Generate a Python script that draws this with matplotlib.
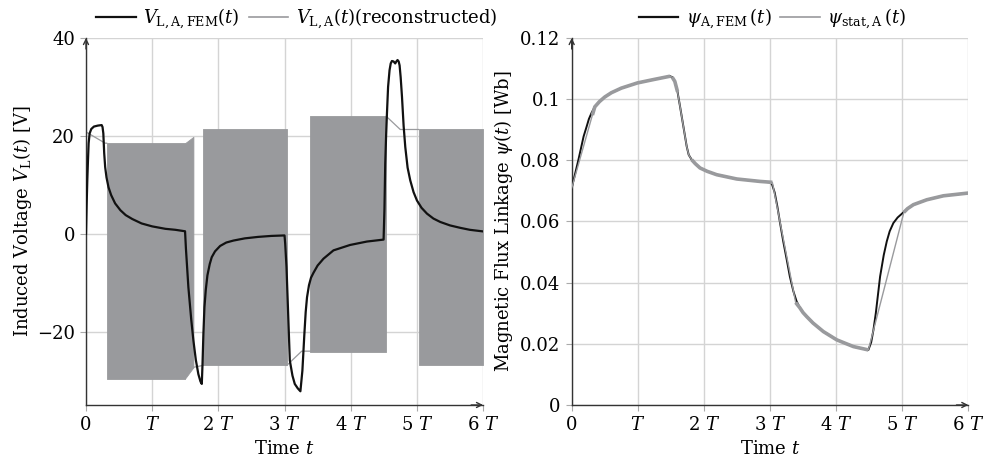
import numpy as np
import matplotlib.pyplot as plt
from matplotlib.lines import Line2D

plt.rcParams['font.family'] = ['DejaVu Serif']
plt.rcParams['mathtext.fontset'] = 'dejavuserif'

# ---------------- Left: induced voltage ----------------
# FEM voltage (t in units of T, value in V)
v_fem_t = [0, 0.01, 0.02, 0.03, 0.04, 0.055, 0.08, 0.12, 0.18, 0.237, 0.25, 0.262, 0.275,
           0.29, 0.31, 0.34, 0.38, 0.44, 0.52, 0.6, 0.7, 0.84, 1.0, 1.2, 1.35, 1.497,
           1.51, 1.547, 1.59, 1.623, 1.66, 1.698, 1.73, 1.75, 1.76, 1.774, 1.79, 1.81,
           1.835, 1.87, 1.90, 1.95, 2.027, 2.12, 2.228, 2.4, 2.6, 2.8, 3.0,
           3.01, 3.03, 3.08, 3.12, 3.155, 3.2, 3.24, 3.27, 3.30, 3.32, 3.34, 3.37, 3.40,
           3.437, 3.5, 3.589, 3.74, 3.99, 4.245, 4.497,
           4.51, 4.522, 4.535, 4.548, 4.565, 4.587, 4.605, 4.623, 4.648, 4.673, 4.69,
           4.708, 4.725, 4.739, 4.755, 4.775, 4.80, 4.825, 4.86, 4.90, 4.95, 5.001,
           5.07, 5.153, 5.25, 5.354, 5.5, 5.656, 5.8, 6.0]
v_fem_v = [0, 6.0, 11.0, 15.0, 18.5, 20.5, 21.4, 21.9, 22.1, 22.2, 21.8, 20.5, 16.5,
           13.6, 11.5, 9.5, 7.9, 6.2, 4.8, 3.8, 3.0, 2.1, 1.5, 1.0, 0.8, 0.5,
           -3.0, -10.9, -17.5, -21.8, -25.8, -28.7, -30.2, -30.7, -27.0, -20.5, -15.0, -11.5,
           -8.5, -6.2, -4.8, -3.6, -2.5, -1.8, -1.4, -0.95, -0.65, -0.45, -0.35,
           -2.0, -6.8, -25.9, -29.0, -30.7, -31.6, -32.2, -28.0, -20.5, -16.0, -13.0, -10.5, -9.0,
           -8.0, -6.5, -5.1, -3.4, -2.3, -1.6, -1.2,
           5.0, 14.3, 20.0, 24.6, 30.0, 33.4, 34.8, 35.3, 35.2, 34.8, 35.2,
           35.5, 35.2, 34.4, 32.0, 28.0, 22.0, 17.7, 13.5, 10.9, 8.5, 6.8,
           5.3, 4.1, 3.1, 2.4, 1.7, 1.2, 0.8, 0.47]

# Reconstructed (switching) voltage: switching bands (envelopes)
band_t0 = [0.313, 1.497, 1.774, 3.388, 5.025]
band_t1 = [1.497, 1.623, 3.035, 4.537, 6.0]
band_top0 = [18.5, 18.5, 21.3, 24.0, 21.3]
band_top1 = [18.5, 19.8, 21.3, 24.0, 21.3]
band_bot0 = [-29.6, -29.6, -26.9, -24.1, -26.8]
band_bot1 = [-29.6, -27.3, -26.9, -24.1, -26.8]
# Reconstructed voltage between the bands
gap_a_t = [0, 0, 0.29, 0.313]
gap_a_v = [-27.0, 20.8, 18.5, 18.5]
gap_b_t = [1.623, 1.774]
gap_b_v = [-27.3, -26.9]
gap_c_t = [3.035, 3.26, 3.388]
gap_c_v = [-26.9, -24.0, -24.0]
gap_d_t = [4.537, 4.749, 5.025]
gap_d_v = [24.0, 21.3, 21.3]

# ---------------- Right: flux linkage ----------------
psi_fem_t = [0, 0.1, 0.18, 0.227, 0.26, 0.30, 0.35, 0.42, 0.5, 0.6, 0.75, 0.993, 1.236,
             1.488, 1.52, 1.56, 1.60, 1.639, 1.69, 1.74, 1.77, 1.815, 1.87, 1.941, 2.05,
             2.193, 2.496, 2.849, 3.0, 3.03, 3.07, 3.11, 3.152, 3.2, 3.253, 3.3, 3.353,
             3.40, 3.45, 3.5, 3.555, 3.65, 3.807, 4.009, 4.261, 4.488, 4.53, 4.564, 4.6,
             4.665, 4.72, 4.766, 4.81, 4.866, 4.93, 5.003, 5.08, 5.169, 5.371, 5.623, 6.0]
psi_fem_v = [0.0709, 0.0800, 0.0878, 0.0911, 0.0935, 0.0955, 0.0975, 0.0992, 0.1007,
             0.1021, 0.1036, 0.1053, 0.1064, 0.1075, 0.1072, 0.1058, 0.1025, 0.0976,
             0.0910, 0.0845, 0.0818, 0.0802, 0.0789, 0.0775, 0.0764, 0.0753, 0.0739,
             0.0731, 0.0728, 0.0722, 0.0695, 0.0650, 0.0595, 0.0535, 0.0475, 0.0420,
             0.0372, 0.0340, 0.0318, 0.0302, 0.0289, 0.0268, 0.0240, 0.0213, 0.0191,
             0.0180, 0.0205, 0.0245, 0.0300, 0.0420, 0.0490, 0.0535, 0.0568, 0.0595,
             0.0613, 0.0627, 0.0642, 0.0655, 0.0671, 0.0684, 0.0693]
psi_stat_t = [0, 0.313, 0.35, 0.42, 0.5, 0.6, 0.75, 0.993, 1.236, 1.488, 1.52, 1.56, 1.60,
              1.639, 1.69, 1.74, 1.77, 1.815, 1.87, 1.941, 2.05, 2.193, 2.496, 2.849,
              3.035, 3.388, 3.45, 3.5, 3.555, 3.65, 3.807, 4.009, 4.261, 4.488, 5.025,
              5.08, 5.169, 5.371, 5.623, 6.0]
psi_stat_v = [0.0709, 0.0948, 0.0975, 0.0992, 0.1007, 0.1021, 0.1036, 0.1053, 0.1064,
              0.1075, 0.1072, 0.1058, 0.1025, 0.0976, 0.0910, 0.0845, 0.0818, 0.0802,
              0.0789, 0.0775, 0.0764, 0.0753, 0.0739, 0.0731, 0.0728, 0.0335, 0.0318,
              0.0302, 0.0289, 0.0268, 0.0240, 0.0213, 0.0191, 0.0180, 0.0630, 0.0642,
              0.0655, 0.0671, 0.0684, 0.0693]

x_ticks = [0, 1, 2, 3, 4, 5, 6]
x_labels = ['0', '$T$', '$2\\ T$', '$3\\ T$', '$4\\ T$', '$5\\ T$', '$6\\ T$']
y1_ticks = [-20, 0, 20, 40]
y2_ticks = [0, 0.02, 0.04, 0.06, 0.08, 0.1, 0.12]
y2_labels = ['0', '0.02', '0.04', '0.06', '0.08', '0.1', '0.12']

GRAY = '#999a9d'
DARK = '#333333'
FS = 13

fig = plt.figure(figsize=(9.85, 4.69), dpi=100)
ax1 = fig.add_axes([0.0873, 0.1365, 0.4031, 0.7825])
ax2 = fig.add_axes([0.5804, 0.1365, 0.4027, 0.7825])


def style(ax, ylim):
    ax.set_xlim(0, 6)
    ax.set_ylim(*ylim)
    ax.grid(True, color='#d4d4d4', lw=1.0)
    ax.set_axisbelow(True)
    for s in ['top', 'right']:
        ax.spines[s].set_visible(False)
    for s in ['left', 'bottom']:
        ax.spines[s].set_color(DARK)
        ax.spines[s].set_linewidth(1.0)
    ax.tick_params(axis='both', length=4, color='#aaaaaa', labelsize=FS, pad=4)
    ax.set_xticks(x_ticks)
    ax.set_xticklabels(x_labels)
    ax.annotate('', xy=(1.0, 0), xytext=(0.97, 0), xycoords='axes fraction',
                arrowprops=dict(arrowstyle='->', color=DARK, lw=1.0, mutation_scale=9,
                                shrinkA=0, shrinkB=0))
    ax.annotate('', xy=(0, 1.0), xytext=(0, 0.97), xycoords='axes fraction',
                arrowprops=dict(arrowstyle='->', color=DARK, lw=1.0, mutation_scale=9,
                                shrinkA=0, shrinkB=0))
    ax.set_xlabel('Time $t$', fontsize=FS, labelpad=4)


# left panel
for t0, t1, a0, a1, b0, b1 in zip(band_t0, band_t1, band_top0, band_top1, band_bot0, band_bot1):
    ax1.fill_between([t0, t1], [b0, b1], [a0, a1], color=GRAY, lw=0.6, zorder=2)
for gt, gv in [(gap_a_t, gap_a_v), (gap_b_t, gap_b_v), (gap_c_t, gap_c_v), (gap_d_t, gap_d_v)]:
    ax1.plot(gt, gv, color=GRAY, lw=0.9, zorder=2)
ax1.plot(v_fem_t, v_fem_v, color='#111111', lw=1.6, zorder=3)
style(ax1, (-35, 40))
ax1.set_yticks(y1_ticks)
ax1.set_ylabel('Induced Voltage $V_{\\mathrm{L}}(t)$ [V]', fontsize=FS, labelpad=2)
h1 = [Line2D([], [], color='#111111', lw=1.6), Line2D([], [], color=GRAY, lw=1.2)]
ax1.legend(h1, ['$V_{\\mathrm{L,A,FEM}}(t)$', '$V_{\\mathrm{L,A}}(t)$(reconstructed)'],
           loc='lower center', bbox_to_anchor=(0.53, 0.99), ncol=2, frameon=False,
           fontsize=13, handlelength=2.2, handletextpad=0.4, columnspacing=0.5, borderpad=0.1)

# right panel
ax2.plot(psi_fem_t, psi_fem_v, color='#111111', lw=1.4, zorder=3)
ps_t = np.array(psi_stat_t)
ps_v = np.array(psi_stat_v)
ax2.plot(ps_t, ps_v, color=GRAY, lw=1.0, zorder=4)
for t0, t1 in zip(band_t0, band_t1):
    m = (ps_t >= t0 - 1e-9) & (ps_t <= t1 + 1e-9)
    ax2.plot(ps_t[m], ps_v[m], color=GRAY, lw=2.6, zorder=4, solid_capstyle='butt')
style(ax2, (0, 0.12))
ax2.set_yticks(y2_ticks)
ax2.set_yticklabels(y2_labels)
ax2.set_ylabel('Magnetic Flux Linkage $\\psi(t)$ [Wb]', fontsize=FS, labelpad=4)
h2 = [Line2D([], [], color='#111111', lw=1.6), Line2D([], [], color=GRAY, lw=1.2)]
ax2.legend(h2, ['$\\psi_{\\mathrm{A,FEM}}\\,(t)$', '$\\psi_{\\mathrm{stat,A}}\\,(t)$'],
           loc='lower center', bbox_to_anchor=(0.506, 0.99), ncol=2, frameon=False,
           fontsize=13, handlelength=2.2, handletextpad=0.4, columnspacing=0.5, borderpad=0.1)

fig.savefig('out.png', dpi=100)
